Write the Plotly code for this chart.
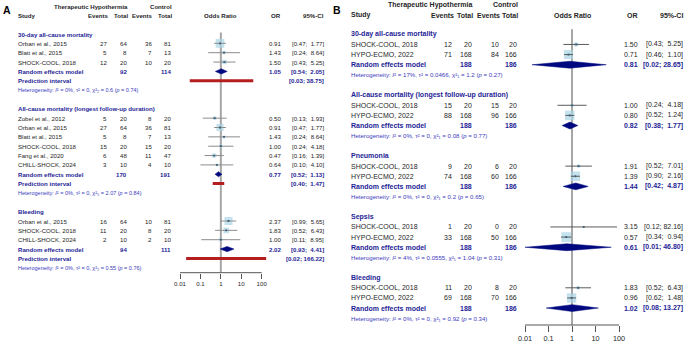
import math
import plotly.graph_objects as go

# ---------------- Panel A data ----------------
A_groups = ["30-day all-cause mortality",
            "All-cause mortality (longest follow-up duration)",
            "Bleeding"]
A_study_group = [0, 0, 0, 1, 1, 1, 1, 1, 1, 2, 2, 2]
A_study = ["Orban et al., 2015", "Blatt et al., 2015", "SHOCK-COOL, 2018",
           "Zobel et al., 2012", "Orban et al., 2015", "Blatt et al., 2015",
           "SHOCK-COOL, 2018", "Fang et al., 2020", "CHILL-SHOCK, 2024",
           "Orban et al., 2015", "SHOCK-COOL, 2018", "CHILL-SHOCK, 2024"]
A_ev_t = [27, 5, 12, 5, 27, 5, 15, 6, 3, 16, 11, 2]
A_n_t = [64, 8, 20, 20, 64, 8, 20, 48, 10, 64, 20, 10]
A_ev_c = [36, 7, 10, 8, 36, 7, 15, 11, 4, 10, 8, 2]
A_n_c = [81, 13, 20, 20, 81, 13, 20, 47, 10, 81, 20, 10]
A_or = [0.91, 1.43, 1.50, 0.50, 0.91, 1.43, 1.00, 0.47, 0.64, 2.37, 1.83, 1.00]
A_lo = [0.47, 0.24, 0.43, 0.13, 0.47, 0.24, 0.24, 0.16, 0.10, 0.99, 0.52, 0.11]
A_hi = [1.77, 8.64, 5.25, 1.93, 1.77, 8.64, 4.18, 1.39, 4.10, 5.65, 6.43, 8.95]
A_re_nt = [92, 170, 94]
A_re_nc = [114, 191, 111]
A_re_or = [1.05, 0.77, 2.02]
A_re_lo = [0.54, 0.52, 0.93]
A_re_hi = [2.05, 1.13, 4.41]
A_pi_lo = [0.03, 0.40, 0.02]
A_pi_hi = [38.75, 1.47, 166.22]
A_i2 = ["0", "0", "0"]
A_tau2 = ["0", "0", "0"]
A_df = ["2", "5", "2"]
A_q = ["0.6", "2.07", "0.55"]
A_p = ["0.74", "0.84", "0.76"]

# ---------------- Panel B data ----------------
B_groups = ["30-day all-cause mortality",
            "All-cause mortality (longest follow-up duration)",
            "Pneumonia", "Sepsis", "Bleeding"]
B_study_group = [0, 0, 1, 1, 2, 2, 3, 3, 4, 4]
B_study = ["SHOCK-COOL, 2018", "HYPO-ECMO, 2022"] * 5
B_ev_t = [12, 71, 15, 88, 9, 74, 1, 33, 11, 69]
B_n_t = [20, 168, 20, 168, 20, 168, 20, 168, 20, 168]
B_ev_c = [10, 84, 15, 96, 6, 60, 0, 50, 8, 70]
B_n_c = [20, 166, 20, 166, 20, 166, 20, 166, 20, 166]
B_or = [1.50, 0.71, 1.00, 0.80, 1.91, 1.39, 3.15, 0.57, 1.83, 0.96]
B_lo = [0.43, 0.46, 0.24, 0.52, 0.52, 0.90, 0.12, 0.34, 0.52, 0.62]
B_hi = [5.25, 1.10, 4.18, 1.24, 7.01, 2.16, 82.16, 0.94, 6.43, 1.48]
B_re_nt = [188, 188, 188, 188, 188]
B_re_nc = [186, 186, 186, 186, 186]
B_re_or = [0.81, 0.82, 1.44, 0.61, 1.02]
B_re_lo = [0.02, 0.38, 0.42, 0.01, 0.08]
B_re_hi = [28.65, 1.77, 4.87, 46.80, 13.27]
B_i2 = ["17", "0", "0", "4", "0"]
B_tau2 = ["0.0466", "0", "0", "0.0555", "0"]
B_df = ["1", "1", "1", "1", "1"]
B_q = ["1.2", "0.08", "0.2", "1.04", "0.92"]
B_p = ["0.27", "0.77", "0.65", "0.31", "0.34"]

tick_vals = [0.01, 0.1, 1, 10, 100]
tick_text = ["0.01", "0.1", "1", "10", "100"]

# ---------------- styling ----------------
W, H = 685, 342
FONT = "Liberation Sans, Arial, DejaVu Sans, sans-serif"
C_TXT = "#262626"
C_BLUE = "#1e1e96"
C_HET = "#3c3cbe"
C_BOX = "#a9d6e6"
C_DIA = "#00087f"
C_PI = "#b41e1e"
NB = "\u00a0"
SUB = str.maketrans("0123456789", "₀₁₂₃₄₅₆₇₈₉")

fig = go.Figure()
anns = []
shapes = []


def ann(text, x, y, yref, anchor="left", size=6.3, color=C_TXT, bold=False):
    if bold:
        text = "<b>" + text + "</b>"
    anns.append(dict(text=text, x=x / W, xref="paper", y=y, yref=yref,
                     xanchor=anchor, yanchor="middle", showarrow=False,
                     borderpad=0, font=dict(family=FONT, size=size, color=color)))


def ci_text(lo, hi):
    pad = NB if hi < 10 else ""
    return f"[{lo:.2f};{NB}{pad}{hi:.2f}]"


def weight(et, nt, ec, nc, tau2):
    cells = [et, nt - et, ec, nc - ec]
    if min(cells) == 0:
        cells = [c + 0.5 for c in cells]
    v = sum(1.0 / c for c in cells)
    return 1.0 / (v + tau2)


def build(D, S):
    xa, ya = S["xa"], S["ya"]
    xr, yr = xa.replace("axis", ""), ya.replace("axis", "")
    ng = len(D["groups"])
    title_row, re_row, pi_row, het_row = [], [], [], []
    study_row = [0] * len(D["study"])
    r = 0
    for g in range(ng):
        title_row.append(r); r += 1
        for i, sg in enumerate(D["sg"]):
            if sg == g:
                study_row[i] = r; r += 1
        re_row.append(r); r += 1
        if D["pi_lo"] is not None:
            pi_row.append(r); r += 1
        het_row.append(r); r += 2

    fs, hs = S["fs"], S["hs"]
    c = S["cols"]
    yref = yr
    # headers
    ann("Therapeutic Hypothermia", c["nt"] + 1, 1 - S["h1"] / H, "paper", "right", fs, C_TXT, True)
    ann("Control", c["nc"] + 1, 1 - S["h1"] / H, "paper", "right", fs, C_TXT, True)
    hy = 1 - S["h2"] / H
    ann("Study", c["study"], hy, "paper", "left", fs, C_TXT, True)
    ann("Events", c["et"] + 2, hy, "paper", "right", fs, C_TXT, True)
    ann("Total", c["nt"] + 1, hy, "paper", "right", fs, C_TXT, True)
    ann("Events", c["ec"] + 1, hy, "paper", "right", fs, C_TXT, True)
    ann("Total", c["nc"] + 1, hy, "paper", "right", fs, C_TXT, True)
    ann("Odds Ratio", c["center"], hy, "paper", "center", fs, C_TXT, True)
    ann("OR", c["or"], hy, "paper", "right", fs, C_TXT, True)
    ann("95%-CI", c["ci"], hy, "paper", "right", fs, C_TXT, True)

    # study weights -> box sizes
    wts = []
    for i in range(len(D["study"])):
        g = D["sg"][i]
        wts.append(weight(D["et"][i], D["nt"][i], D["ec"][i], D["nc"][i], float(D["tau2"][g])))
    gsum = [sum(w for w, sg in zip(wts, D["sg"]) if sg == g) for g in range(ng)]
    sizes = [S["k"] * math.sqrt(w / gsum[sg]) for w, sg in zip(wts, D["sg"])]

    for g in range(ng):
        ann(D["groups"][g], c["study"], title_row[g], yref, "left", fs, C_BLUE, True)
        ann("Random effects model", c["study"], re_row[g], yref, "left", fs, C_BLUE, True)
        ann(str(D["re_nt"][g]), c["nt"], re_row[g], yref, "right", fs, C_BLUE, True)
        ann(str(D["re_nc"][g]), c["nc"], re_row[g], yref, "right", fs, C_BLUE, True)
        ann(f"{D['re_or'][g]:.2f}", c["or"], re_row[g], yref, "right", fs, C_BLUE, True)
        ann(ci_text(D["re_lo"][g], D["re_hi"][g]), c["ci"], re_row[g], yref, "right", fs, C_BLUE, True)
        if pi_row:
            ann("Prediction interval", c["study"], pi_row[g], yref, "left", fs, C_BLUE, True)
            ann(ci_text(D["pi_lo"][g], D["pi_hi"][g]), c["ci"], pi_row[g], yref, "right", fs, C_BLUE, True)
        het = (f"Heterogeneity: <i>I</i>² = {D['i2'][g]}%, "
               f"τ² = {D['tau2'][g]}, χ²{D['df'][g].translate(SUB)} = {D['q'][g]} "
               f"(<i>p</i> = {D['p'][g]})")
        ann(het, c["study"], het_row[g], yref, "left", hs, C_HET, False)

    for i in range(len(D["study"])):
        rr = study_row[i]
        ann(D["study"][i], c["study"], rr, yref, "left", fs)
        ann(str(D["et"][i]), c["et"], rr, yref, "right", fs)
        ann(str(D["nt"][i]), c["nt"], rr, yref, "right", fs)
        ann(str(D["ec"][i]), c["ec"], rr, yref, "right", fs)
        ann(str(D["nc"][i]), c["nc"], rr, yref, "right", fs)
        ann(f"{D['or'][i]:.2f}", c["or"], rr, yref, "right", fs)
        ann(ci_text(D["lo"][i], D["hi"][i]), c["ci"], rr, yref, "right", fs)

    # reference line at OR = 1 and bottom axis line
    shapes.append(dict(type="line", xref=xr, yref=yr, x0=1, x1=1, y0=S["vtop"],
                       y1=S["yrange"][0], line=dict(color=S["vcol"], width=S["vw"]), layer="below"))
    shapes.append(dict(type="line", xref=xr, yref=yr + " domain", x0=tick_vals[0], x1=tick_vals[-1],
                       y0=0, y1=0, line=dict(color="#555555", width=1)))

    # diamonds
    h = S["dh"]
    for g in range(ng):
        rr = re_row[g]
        fig.add_trace(go.Scatter(
            x=[D["re_lo"][g], D["re_or"][g], D["re_hi"][g], D["re_or"][g], D["re_lo"][g]],
            y=[rr, rr - h, rr, rr + h, rr], mode="lines", fill="toself",
            fillcolor=C_DIA, line=dict(color=C_DIA, width=0.5),
            xaxis=xr, yaxis=yr, hoverinfo="skip", showlegend=False))
    # prediction intervals
    if pi_row:
        px_, py_ = [], []
        for g in range(ng):
            px_ += [D["pi_lo"][g], D["pi_hi"][g], None]
            py_ += [pi_row[g], pi_row[g], None]
        fig.add_trace(go.Scatter(x=px_, y=py_, mode="lines", line=dict(color=C_PI, width=3),
                                 xaxis=xr, yaxis=yr, hoverinfo="skip", showlegend=False))
    # boxes
    fig.add_trace(go.Scatter(x=D["or"], y=study_row, mode="markers",
                             marker=dict(symbol="square", size=sizes, color=C_BOX, line=dict(width=0)),
                             xaxis=xr, yaxis=yr, hoverinfo="skip", showlegend=False))
    # CI lines
    lx, ly = [], []
    for i in range(len(D["study"])):
        lx += [D["lo"][i], D["hi"][i], None]
        ly += [study_row[i], study_row[i], None]
    fig.add_trace(go.Scatter(x=lx, y=ly, mode="lines", line=dict(color=S["cicol"], width=1),
                             xaxis=xr, yaxis=yr, hoverinfo="skip", showlegend=False))
    fig.add_trace(go.Scatter(x=D["or"], y=study_row, mode="markers",
                             marker=dict(symbol="square", size=1.8, color="#3a5a70"),
                             xaxis=xr, yaxis=yr, hoverinfo="skip", showlegend=False))

    fig.layout[xa] = dict(type="log", range=[-2.3, 2.3], domain=S["xdom"], anchor=yr,
                          showgrid=False, zeroline=False, showline=False,
                          ticks="outside", ticklen=S["ticklen"], tickwidth=1, tickcolor="#555555",
                          tickvals=tick_vals, ticktext=tick_text,
                          tickfont=dict(family=FONT, size=S["tfs"], color=C_TXT), fixedrange=True)
    fig.layout[ya] = dict(range=S["yrange"], domain=S["ydom"], anchor=xr, visible=False,
                          showgrid=False, zeroline=False, fixedrange=True)


DA = dict(groups=A_groups, sg=A_study_group, study=A_study, et=A_ev_t, nt=A_n_t, ec=A_ev_c, nc=A_n_c,
          lo=A_lo, hi=A_hi, re_nt=A_re_nt, re_nc=A_re_nc, re_or=A_re_or, re_lo=A_re_lo,
          re_hi=A_re_hi, pi_lo=A_pi_lo, pi_hi=A_pi_hi, i2=A_i2, tau2=A_tau2, df=A_df, q=A_q, p=A_p)
DA["or"] = A_or
DB = dict(groups=B_groups, sg=B_study_group, study=B_study, et=B_ev_t, nt=B_n_t, ec=B_ev_c, nc=B_n_c,
          lo=B_lo, hi=B_hi, re_nt=B_re_nt, re_nc=B_re_nc, re_or=B_re_or, re_lo=B_re_lo,
          re_hi=B_re_hi, pi_lo=None, pi_hi=None, i2=B_i2, tau2=B_tau2, df=B_df, q=B_q, p=B_p)
DB["or"] = B_or

# panel A geometry: rows at y = 34 + 9.35*r px, axis at 272.7 px, 20.42 px/decade, 0.01 at 180 px
a_dec = 20.42
SA = dict(xa="xaxis", ya="yaxis", fs=6.1, hs=5.5, tfs=6.1, k=10.3, dh=0.28, ticklen=5,
          h1=6, h2=15, vtop=-0.15, vcol="#a6a6a6", vw=2, cicol="#8c8c8c",
          cols=dict(study=17, et=108, nt=128, ec=153, nc=172, center=220.5, ci=325),
          xdom=[(180 - 0.3 * a_dec) / W, (180 + 4.3 * a_dec) / W],
          yrange=[(272.7 - 34) / 9.35, (0 - 34) / 9.35], ydom=[1 - 272.7 / H, 1])
SA["cols"]["or"] = 282
# panel B geometry: rows at y = 34.3 + 10.14*r px, axis at 325 px, 23.5 px/decade, 0.01 at 525 px
b_dec = 23.5
SB = dict(xa="xaxis2", ya="yaxis2", fs=7.0, hs=6.1, tfs=7.3, k=10.0, dh=0.34, ticklen=6,
          h1=5, h2=15, vtop=-0.5, vcol="#4d4d4d", vw=1, cicol="#5a5a5a",
          cols=dict(study=350, et=453, nt=472.5, ec=499.5, nc=517.5, center=572, ci=684),
          xdom=[(525 - 0.3 * b_dec) / W, (525 + 4.3 * b_dec) / W],
          yrange=[(325 - 34.3) / 10.14, (0 - 34.3) / 10.14], ydom=[1 - 325 / H, 1])
SB["cols"]["or"] = 639

build(DA, SA)
build(DB, SB)

# panel letters
anns.append(dict(text="<b>A</b>", x=1.5 / W, xref="paper", y=1 - 10 / H, yref="paper",
                 xanchor="left", yanchor="middle", showarrow=False, borderpad=0,
                 font=dict(family=FONT, size=10.5, color="#000000")))
anns.append(dict(text="<b>B</b>", x=332 / W, xref="paper", y=1 - 10 / H, yref="paper",
                 xanchor="left", yanchor="middle", showarrow=False, borderpad=0,
                 font=dict(family=FONT, size=10.5, color="#000000")))

fig.update_layout(width=W, height=H, margin=dict(l=0, r=0, t=0, b=0),
                  paper_bgcolor="white", plot_bgcolor="rgba(0,0,0,0)",
                  annotations=anns, shapes=shapes, showlegend=False,
                  font=dict(family=FONT))
fig.write_html("out.html", config={"displayModeBar": False},
               post_script="document.body.style.margin='0';document.body.style.overflow='hidden';")
